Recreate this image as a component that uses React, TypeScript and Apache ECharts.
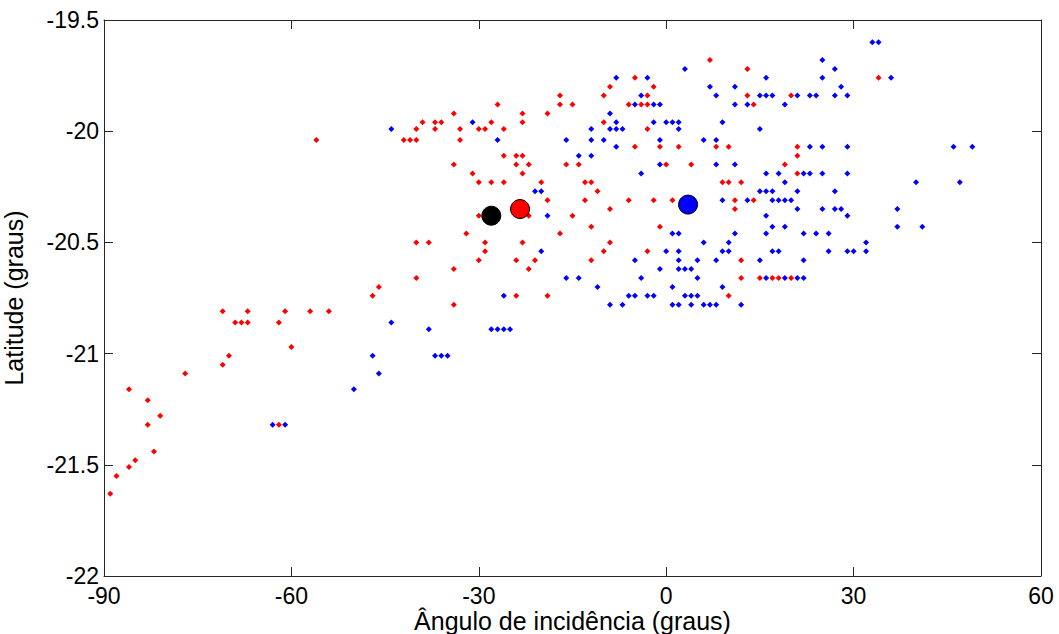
import React, { useEffect, useRef } from "react";
import * as echarts from "echarts";

// Axis ranges / tick labels
const xMin = -90;
const xMax = 60;
const xStep = 30;
const yMin = -22;
const yMax = -19.5;
const yStep = 0.5;
const xTitle = "Ângulo de incidência (graus)";
const yTitle = "Latitude (graus)";

// Red points: [latitude, incidence angles]
const redRows: [number, number[]][] = [
  [-19.68, [7]],
  [-19.72, [13]],
  [-19.76, [-5, 34]],
  [-19.8, [-9, -2]],
  [-19.84, [-17, -10, -3, 13, 20]],
  [-19.88, [-27, -17, -15, -6, -4, -3, 14]],
  [-19.92, [-34, -23, -19]],
  [-19.96, [-39, -37, -36, -28, -23, -10]],
  [-19.99, [-40, -37, -33, -30, -29, -26, -3]],
  [-20.04, [-56, -42, -41, -40, -33]],
  [-20.07, [-5, -1, 2, 8, 10, 21]],
  [-20.11, [-26, -24, -23, 21]],
  [-20.15, [-34, -24, -22, -16, -14, 0, 4, 19]],
  [-20.19, [-31, -23, 21]],
  [-20.23, [-30, -28, -26, -20, -13, -12, 9, 10, 12]],
  [-20.27, [-11]],
  [-20.31, [-19, -13, -6, -2, 1, 11, 14]],
  [-20.35, [-9, 11]],
  [-20.38, [-30, -22, -15]],
  [-20.43, [-12, -1]],
  [-20.46, [-32, -17]],
  [-20.5, [-40, -38, -29, -23, -9]],
  [-20.54, [-29, -10, -3]],
  [-20.58, [-30, -24, -21, -12, 12]],
  [-20.62, [-34, -22]],
  [-20.66, [-40, 12, 15, 17, 18, 20]],
  [-20.7, [-46]],
  [-20.74, [-47, -24, -19, 10]],
  [-20.78, [-34]],
  [-20.81, [-71, -67, -61, -57, -54]],
  [-20.86, [-69, -68, -67, -62]],
  [-20.97, [-60]],
  [-21.01, [-70]],
  [-21.05, [-71]],
  [-21.09, [-77]],
  [-21.16, [-86]],
  [-21.21, [-83]],
  [-21.28, [-81]],
  [-21.32, [-83, -62]],
  [-21.44, [-82]],
  [-21.48, [-85]],
  [-21.51, [-86]],
  [-21.55, [-88]],
  [-21.63, [-89]],
];

// Blue points: [latitude, incidence angles]
const blueRows: [number, number[]][] = [
  [-19.6, [33, 34]],
  [-19.68, [25]],
  [-19.72, [3, 27]],
  [-19.76, [-8, -3, 16, 25, 36]],
  [-19.8, [7, 11, 28]],
  [-19.84, [-4, 8, 15, 16, 17, 21, 23, 24, 27, 29]],
  [-19.88, [-5, -2, -1, 11, 13, 19]],
  [-19.92, [-9]],
  [-19.96, [-31, -8, -2, 0, 1, 2, 9]],
  [-19.99, [-44, -12, -9, -8, -7, 2, 15]],
  [-20.04, [-27, -16, -12, -10, -1, 6, 8]],
  [-20.07, [-8, 23, 25, 29, 46, 49]],
  [-20.11, [-14, -12]],
  [-20.15, [-1, 8, 11]],
  [-20.19, [-4, 16, 18, 22, 23, 25, 29]],
  [-20.23, [19, 40, 47]],
  [-20.27, [-21, -20, 15, 16, 17, 21, 27]],
  [-20.31, [9, 13, 17, 18, 19, 20]],
  [-20.35, [21, 25, 27, 28, 37]],
  [-20.38, [-19, 16, 29]],
  [-20.43, [17, 19, 37, 41]],
  [-20.46, [1, 2, 11, 16, 22, 24, 26]],
  [-20.5, [6, 10, 32]],
  [-20.54, [-20, 0, 2, 9, 10, 17, 18, 26, 29, 30, 32]],
  [-20.58, [-5, 2, 5, 8, 15, 22]],
  [-20.62, [-1, 2, 3, 4]],
  [-20.66, [-16, -14, -4, 5, 16, 19, 21, 22]],
  [-20.7, [-11, 1, 9]],
  [-20.74, [-26, -6, -5, -3, -2, 3, 4, 5]],
  [-20.78, [-9, -7, 1, 2, 4, 6, 7, 8, 12]],
  [-20.86, [-44]],
  [-20.89, [-38, -28, -27, -26, -25]],
  [-21.01, [-47, -37, -36, -35]],
  [-21.09, [-46]],
  [-21.16, [-50]],
  [-21.32, [-63, -61]],
];

// Mean markers [angle, latitude]
const meanBlack: [number, number] = [-28.0, -20.38];
const meanRed: [number, number] = [-23.4, -20.35];
const meanBlue: [number, number] = [3.5, -20.33];

const FONT = "'Liberation Sans', Arial, sans-serif";
const LINE = "#262626";

function toPoints(rows: [number, number[]][]) {
  return rows.flatMap(([lat, angs]) => angs.map((a) => [a, lat]));
}

export default function App() {
  const ref = useRef<HTMLDivElement>(null);
  useEffect(() => {
    if (!ref.current) return;
    const chart = echarts.init(ref.current, undefined, { renderer: "svg" });
    const axisCommonX = {
      type: "value" as const,
      min: xMin,
      max: xMax,
      interval: xStep,
      splitLine: { show: false },
      axisLine: { show: true, onZero: false, lineStyle: { color: LINE, width: 1 } },
      axisTick: { show: true, inside: true, length: 9, lineStyle: { color: LINE } },
    };
    const axisCommonY = {
      type: "value" as const,
      min: yMin,
      max: yMax,
      interval: yStep,
      splitLine: { show: false },
      axisLine: { show: true, onZero: false, lineStyle: { color: LINE, width: 1 } },
      axisTick: { show: true, inside: true, length: 9, lineStyle: { color: LINE } },
    };
    chart.setOption({
      animation: false,
      backgroundColor: "#fff",
      grid: {
        left: 104,
        right: 18,
        top: 20,
        bottom: 58,
        containLabel: false,
        outerBoundsMode: "none",
      },
      xAxis: [
        {
          ...axisCommonX,
          position: "bottom",
          name: xTitle,
          nameLocation: "middle",
          nameGap: 32,
          nameMoveOverlap: false,
          nameTextStyle: { color: "#000", fontSize: 25, fontFamily: FONT },
          axisLabel: {
            color: "#000",
            fontSize: 23,
            fontFamily: FONT,
            margin: 8,
            formatter: (v: number) => String(v),
          },
        },
        {
          ...axisCommonX,
          position: "top",
          axisLabel: { show: false },
        },
      ],
      yAxis: [
        {
          ...axisCommonY,
          position: "left",
          name: yTitle,
          nameLocation: "middle",
          nameGap: 78,
          nameRotate: 90,
          nameMoveOverlap: false,
          nameTextStyle: { color: "#000", fontSize: 25, fontFamily: FONT },
          axisLabel: {
            color: "#000",
            fontSize: 23,
            fontFamily: FONT,
            margin: 5,
            formatter: (v: number) => String(v),
          },
        },
        {
          ...axisCommonY,
          position: "right",
          axisLabel: { show: false },
        },
      ],
      series: [
        {
          type: "scatter",
          data: toPoints(blueRows),
          symbol: "diamond",
          symbolSize: 6,
          itemStyle: { color: "#0000ff", opacity: 1 },
          xAxisIndex: 0,
          yAxisIndex: 0,
        },
        {
          type: "scatter",
          data: toPoints(redRows),
          symbol: "diamond",
          symbolSize: 6,
          itemStyle: { color: "#ff0000", opacity: 1 },
          xAxisIndex: 0,
          yAxisIndex: 0,
        },
        {
          type: "scatter",
          data: [meanBlack],
          symbolSize: 19,
          itemStyle: { color: "#000000", borderColor: "#000", borderWidth: 1, opacity: 1 },
        },
        {
          type: "scatter",
          data: [meanRed],
          symbolSize: 19,
          itemStyle: { color: "#ff0000", borderColor: "#000", borderWidth: 1, opacity: 1 },
        },
        {
          type: "scatter",
          data: [meanBlue],
          symbolSize: 19,
          itemStyle: { color: "#0000ff", borderColor: "#000", borderWidth: 1, opacity: 1 },
        },
      ],
    });
    return () => chart.dispose();
  }, []);
  return (
    <div
      ref={ref}
      style={{ position: "fixed", left: 0, top: 0, width: 1059, height: 634, background: "#fff" }}
    />
  );
}
